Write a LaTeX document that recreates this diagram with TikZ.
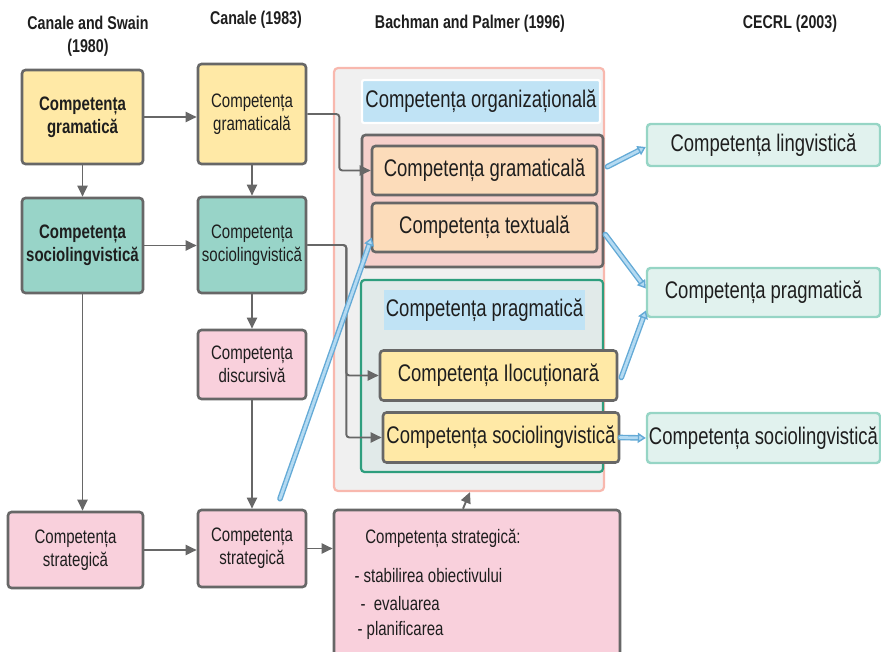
\documentclass[tikz,border=0pt]{standalone}
\usepackage{fontspec}
\setmainfont{Liberation Sans}[FakeStretch=0.77]
\usetikzlibrary{arrows.meta,calc}
\definecolor{lgray}{HTML}{676767}
\definecolor{cyel}{HTML}{FFE9A6}
\definecolor{cteal}{HTML}{98D4C8}
\definecolor{cpink}{HTML}{F9D0DC}
\definecolor{cpeach}{HTML}{FCDCBA}
\definecolor{corg}{HTML}{F6D0CB}
\definecolor{cbg}{HTML}{F0F0F0}
\definecolor{cbgline}{HTML}{F8B8AE}
\definecolor{cprag}{HTML}{E1EAE9}
\definecolor{cgreen}{HTML}{2E9E7E}
\definecolor{clab}{HTML}{C0E3F5}
\definecolor{ccec}{HTML}{E1F2EE}
\definecolor{ccecline}{HTML}{96D5C5}
\definecolor{bblue}{HTML}{64AAD6}
\definecolor{bblueL}{HTML}{B4DAF2}
\definecolor{txt}{HTML}{1E1E1E}
\tikzset{
  bx/.style={draw=lgray, line width=2.6pt, rounded corners=3.5pt, inner sep=0pt, align=center, text=txt},
  smallf/.style={font=\fontsize{19.5}{23}\selectfont},
  bigf/.style={font=\fontsize{24}{28}\selectfont},
  headf/.style={font=\fontsize{18.5}{23}\selectfont\bfseries, text=txt},
  arr/.style={draw=lgray, line width=1.9pt, -{Triangle[length=11pt,width=10pt]}},
  barr/.style={draw=bblue, line width=1.4pt, double=bblueL, double distance=2.8pt, line cap=round, -{Triangle[open,length=8pt,width=10pt,fill=bblueL]}},
  cec/.style={draw=ccecline, fill=ccec, line width=2.4pt, rounded corners=3.5pt, inner sep=0pt, bigf, text=txt}
}
\begin{document}
\begin{tikzpicture}[x=1pt,y=-1pt]
\useasboundingbox (0,0) rectangle (881,652);
% headers
\node[headf, align=center] (h1) at (88,36) {Canale and Swain\\(1980)};
\node[headf] (h2) at (256,20) {Canale (1983)};
\node[headf] (h3) at (470,24) {Bachman and Palmer (1996)};
\node[headf] (h4) at (790,24) {CECRL (2003)};
% column 1
\node[bx, fill=cyel, minimum width=121pt, minimum height=94pt, font=\fontsize{19.5}{23}\selectfont\bfseries] (g1) at (82.5,117) {Competența\\gramatică};
\node[bx, fill=cteal, minimum width=121pt, minimum height=95pt, font=\fontsize{19.5}{23}\selectfont\bfseries] (s1) at (82.5,245.5) {Competența\\sociolingvistică};
\node[bx, fill=cpink, minimum width=135pt, minimum height=76pt, smallf] (st1) at (75.5,550) {Competența\\strategică};
% column 2
\node[bx, fill=cyel, minimum width=108pt, minimum height=100pt, smallf] (g2) at (252,114) {Competența\\gramaticală};
\node[bx, fill=cteal, minimum width=108pt, minimum height=96pt, smallf] (s2) at (252,245) {Competența\\sociolingvistică};
\node[bx, fill=cpink, minimum width=108pt, minimum height=69pt, smallf] (d2) at (252,364.5) {Competența\\discursivă};
\node[bx, fill=cpink, minimum width=108pt, minimum height=77pt, smallf] (st2) at (252,548.5) {Competența\\strategică};
% Bachman and Palmer
\node[draw=cbgline, fill=cbg, line width=2.2pt, rounded corners=4pt, minimum width=270pt, minimum height=423pt, inner sep=0pt] (bp) at (469,279.5) {};
\node[draw=white, fill=clab, line width=2.2pt, rounded corners=2pt, minimum width=238pt, minimum height=43pt, inner sep=0pt, bigf, text=txt] (orglab) at (481,101.5) {Competența organizațională};
\node[bx, fill=corg, minimum width=241pt, minimum height=132pt] (org) at (482.5,201) {};
\node[bx, fill=cpeach, minimum width=225pt, minimum height=49pt, bigf] (gram) at (484.5,170.5) {Competența gramaticală};
\node[bx, fill=cpeach, minimum width=225pt, minimum height=49pt, bigf] (text) at (484.5,227.5) {Competența textuală};
\node[draw=cgreen, fill=cprag, line width=2.2pt, rounded corners=3.5pt, minimum width=242pt, minimum height=192pt, inner sep=0pt] (prag) at (482,376) {};
\node[fill=clab, minimum width=201pt, minimum height=40pt, inner sep=0pt, bigf, text=txt] (praglab) at (484.5,310) {Competența pragmatică};
\node[bx, fill=cyel, minimum width=237pt, minimum height=50pt, bigf] (ilo) at (498.5,375.5) {Competența Ilocuționară};
\node[bx, fill=cyel, minimum width=236pt, minimum height=50pt, bigf] (soc) at (501,437.5) {Competența sociolingvistică};
% strategic big box
\node[bx, fill=cpink, minimum width=286pt, minimum height=152pt] (sb) at (477,586) {};
\node[smallf, text=txt] (sbt) at (443,538) {Competența strategică:};
\node[smallf, text=txt, anchor=west] (sb1) at (351,576) {- stabilirea obiectivului};
\node[smallf, text=txt, anchor=west] (sb2) at (357,604) {-\ \ evaluarea};
\node[smallf, text=txt, anchor=west] (sb3) at (354,630) {- planificarea};
% CECRL
\node[cec, minimum width=233pt, minimum height=42pt] (lin) at (763.5,145) {Competența lingvistică};
\node[cec, minimum width=233pt, minimum height=49pt] (prg) at (763.5,292.5) {Competența pragmatică};
\node[cec, minimum width=233pt, minimum height=50pt] (soc3) at (763.5,438) {Competența sociolingvistică};
% gray connectors
\draw[arr] (g1.east) -- (g1.east -| g2.west);
\draw[arr] (g1.south) -- (s1.north);
\draw[arr] (s1.east) -- (s1.east -| s2.west);
\draw[arr] (s1.south) -- (s1.south |- st1.north);
\draw[arr] (st1.east) -- (st1.east -| st2.west);
\draw[arr] (g2.south) -- (s2.north);
\draw[arr] (s2.south) -- (d2.north);
\draw[arr] (d2.south) -- (st2.north);
\draw[arr] (st2.east) -- (st2.east -| sb.west);
\draw[arr, rounded corners=3pt] (g2.east) -- ++(32,0) |- (gram.west);
\draw[arr, rounded corners=3pt] (s2.east) -- ++(39,0) |- (ilo.west);
\draw[arr, rounded corners=3pt] (s2.east) -- ++(39,0) |- (soc.west);
\draw[arr] ($(sb.north)+(-14,0)$) -- ($(bp.south)+(1,0)$);
% blue connectors
\draw[barr] ($(org.north east)+(3,33)$) -- ($(lin.west)+(0,2)$);
\draw[barr] ($(text.east)+(7,7)$) -- ($(prg.west)+(0,-4)$);
\draw[barr] ($(ilo.east)+(3,2)$) -- ($(prg.west)+(0,18)$);
\draw[barr] (soc.east) -- (soc3.west);
\draw[barr] ($(st2.north)+(28,-10)$) -- ($(text.west)+(1,10)$);
\end{tikzpicture}
\end{document}
